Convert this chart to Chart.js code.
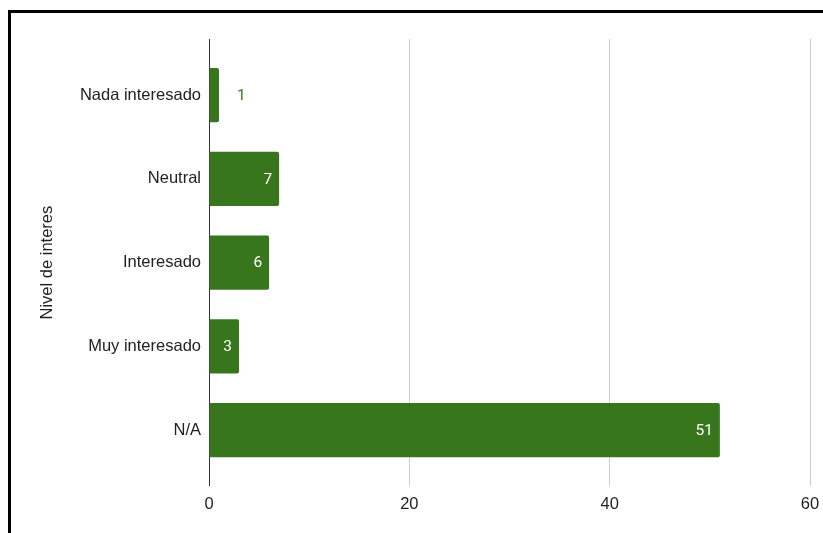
<!DOCTYPE html>
<html>
<head>
<meta charset="utf-8">
<script src="https://cdn.jsdelivr.net/npm/chart.js@4.4.0/dist/chart.umd.min.js"></script>
<style>
  html, body { margin: 0; padding: 0; background: #fff; }
  #wrap { position: relative; width: 823px; height: 533px; overflow: hidden; }
  #frame { position: absolute; left: 8px; top: 10px; width: 900px; height: 600px;
           border-top: 3px solid #000; border-left: 3px solid #000; }
  canvas { position: absolute; left: 0; top: 0; }
</style>
</head>
<body>
<div id="wrap">
  <div id="frame"></div>
  <canvas id="chart" width="823" height="533"></canvas>
</div>
<script>
const categories = ["Nada interesado", "Neutral", "Interesado", "Muy interesado", "N/A"];
const counts = [1, 7, 6, 3, 51];
const xTicks = [0, 20, 40, 60];

const green = "#38761d";
const axisFont = "'Liberation Sans', Arial, sans-serif";
const labelFont = "Roboto, 'Noto Sans', Arial, sans-serif";

// value labels: inside the bar end in white, or just outside in green when the bar is too short
const valueLabels = {
  id: "valueLabels",
  afterDatasetsDraw(chart) {
    const ctx = chart.ctx;
    const meta = chart.getDatasetMeta(0);
    ctx.save();
    ctx.font = "15.5px " + labelFont;
    ctx.textBaseline = "middle";
    meta.data.forEach((bar, i) => {
      const txt = String(counts[i]);
      const w = ctx.measureText(txt).width;
      const len = bar.x - bar.base;
      if (len > w + 14) {
        ctx.fillStyle = "#ffffff";
        ctx.textAlign = "right";
        ctx.fillText(txt, bar.x - 7, bar.y + 1);
      } else {
        ctx.fillStyle = green;
        ctx.textAlign = "left";
        ctx.fillText(txt, bar.x + 18, bar.y + 1);
      }
    });
    ctx.restore();
  }
};

new Chart(document.getElementById("chart"), {
  type: "bar",
  data: {
    datasets: [{
      data: counts.map((v, i) => ({ x: v, y: i })),
      backgroundColor: green,
      borderRadius: 2,
      borderSkipped: "start",
      categoryPercentage: 1,
      barPercentage: 0.647
    }]
  },
  options: {
    indexAxis: "y",
    responsive: false,
    animation: false,
    layout: { padding: { top: 39, left: 34, right: 13, bottom: 11 } },
    plugins: { legend: { display: false }, tooltip: { enabled: false } },
    scales: {
      x: {
        type: "linear",
        min: 0,
        max: 60,
        afterBuildTicks: s => { s.ticks = xTicks.map(v => ({ value: v })); },
        afterFit: s => { s.paddingRight = 10; s.paddingLeft = 0; },
        grid: {
          drawTicks: false,
          color: c => c.tick && c.tick.value === 0 ? "#333333" : "#cccccc",
          lineWidth: 1
        },
        border: { display: false },
        ticks: { padding: 8, color: "#222", font: { size: 16.5, family: axisFont } }
      },
      y: {
        type: "linear",
        reverse: true,
        offset: false,
        min: -0.67,
        max: 4.67,
        afterBuildTicks: s => { s.ticks = categories.map((c, i) => ({ value: i })); },
        afterFit: s => { s.width = 175; s.paddingTop = 0; s.paddingBottom = 0; },
        grid: { display: false, drawTicks: false, offset: false },
        border: { display: false },
        ticks: {
          padding: 8,
          autoSkip: false,
          color: "#222",
          font: { size: 16.5, family: axisFont },
          callback: v => categories[v]
        },
        title: {
          display: true,
          text: "Nivel de interes",
          color: "#222",
          font: { size: 16.5, family: axisFont }
        }
      }
    }
  },
  plugins: [valueLabels]
});
</script>
</body>
</html>
